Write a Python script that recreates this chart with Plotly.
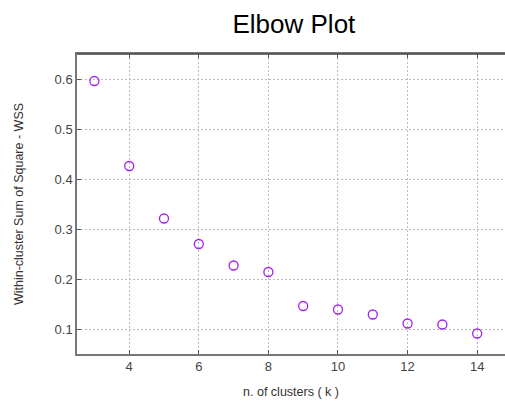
import plotly.graph_objects as go

k_values = [3, 4, 5, 6, 7, 8, 9, 10, 11, 12, 13, 14]
wss_values = [0.596, 0.426, 0.321, 0.270, 0.227, 0.214, 0.146, 0.139, 0.129, 0.111, 0.109, 0.091]
x_ticks = [4, 6, 8, 10, 12, 14]
y_ticks = [0.1, 0.2, 0.3, 0.4, 0.5, 0.6]

fig = go.Figure()
fig.add_trace(go.Scatter(
    x=k_values, y=wss_values, mode="markers",
    marker=dict(symbol="circle-open", size=9, color="#a020f0", line=dict(width=1.3, color="#a020f0")),
    showlegend=False,
))

fam = "Liberation Sans, Arial, sans-serif"
tick_font = dict(family=fam, size=13, color="#444")
title_font = dict(family=fam, size=12.5, color="#333")
fig.update_layout(
    width=505, height=401,
    margin=dict(l=77, r=0, t=54, b=47),
    paper_bgcolor="white", plot_bgcolor="white",
    title=dict(text="Elbow Plot", x=0.582, xanchor="center", y=0.94, yanchor="middle",
               font=dict(family=fam, size=26, color="#000")),
    font=tick_font,
)
fig.update_xaxes(
    range=[2.5, 14.8], tickvals=x_ticks, ticks="inside", ticklen=4, tickcolor="#555",
    showline=True, linecolor="#777", linewidth=1.5, mirror="ticks",
    showgrid=True, gridcolor="#bbbbbb", griddash="2px,2px", gridwidth=1, zeroline=False,
    title=dict(text="n. of clusters ( k )", standoff=14, font=title_font),
    tickfont=tick_font, automargin=False,
)
fig.update_yaxes(
    range=[0.05, 0.65], tickvals=y_ticks, tickformat=".1f", ticks="inside", ticklen=4, tickcolor="#555",
    showline=True, linecolor="#777", linewidth=1.5,
    showgrid=True, gridcolor="#bbbbbb", griddash="2px,2px", gridwidth=1, zeroline=False,
    title=dict(text="Within-cluster Sum of Square - WSS", standoff=28, font=title_font),
    tickfont=tick_font, automargin=False,
)
fig.add_shape(type="line", xref="paper", yref="paper", x0=0, x1=1, y0=1, y1=1,
              line=dict(color="#444", width=1.5))
fig.write_html("out.html", config={"displayModeBar": False},
               post_script="document.body.style.margin='0';document.body.style.overflow='hidden';")
